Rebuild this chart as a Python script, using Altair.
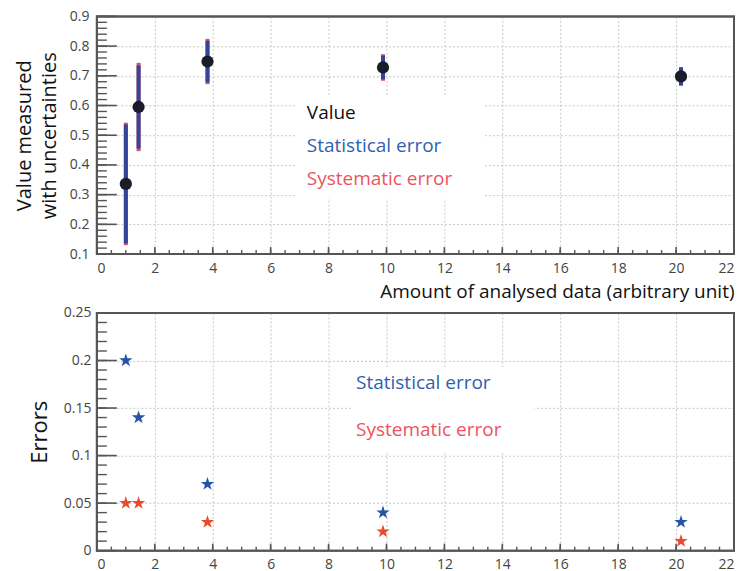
import altair as alt
import pandas as pd
import math

# ---- data ----
x_vals = [1.0, 1.44, 3.82, 9.88, 20.17]
values = [0.336, 0.595, 0.748, 0.728, 0.698]
stat_err = [0.20, 0.14, 0.07, 0.04, 0.03]
syst_err = [0.05, 0.05, 0.03, 0.02, 0.01]

x_major = list(range(0, 23, 2))
x_minor = [i * 0.5 for i in range(0, 45)]
y_top_major = [round(0.1 + 0.1 * i, 2) for i in range(9)]
y_top_minor = [round(0.1 + 0.02 * i, 2) for i in range(41)]
y_bot_major = [0, 0.05, 0.1, 0.15, 0.2, 0.25]
y_bot_minor = [round(0.01 * i, 2) for i in range(26)]

top_labels = ["Value", "Statistical error", "Systematic error"]
top_label_x = [7.25, 7.25, 7.25]
top_label_y = [0.575, 0.465, 0.352]
bot_labels = ["Statistical error", "Systematic error"]
bot_label_x = [8.95, 8.95]
bot_label_y = [0.176, 0.127]

BLUE_TXT = "#2f5fae"
RED_TXT = "#ea5460"
BLUE_STAR = "#2454a6"
RED_STAR = "#ea4a2c"
BAR_BLUE = "#34449a"
BAR_RED = "#e0505a"
PT = "#1c1c28"
FONT = "Open Sans"
TICKC = "#444444"
FRAME = "#555555"
STAR = ("M0,-1L0.2245,-0.309L0.9511,-0.309L0.3633,0.118L0.5878,0.809L0,0.382"
        "L-0.5878,0.809L-0.3633,0.118L-0.9511,-0.309L-0.2245,-0.309Z")

df = pd.DataFrame({"xv": x_vals, "val": values})
tot = [math.sqrt(a * a + b * b) for a, b in zip(stat_err, syst_err)]
df["lo_t"] = [v - t for v, t in zip(values, tot)]
df["hi_t"] = [v + t for v, t in zip(values, tot)]
df["lo_s"] = [v - s for v, s in zip(values, stat_err)]
df["hi_s"] = [v + s for v, s in zip(values, stat_err)]

W, H1, H2 = 638, 238, 238
XS = alt.Scale(domain=[0, 22], nice=False)
YS1 = alt.Scale(domain=[0.1, 0.9], nice=False, zero=False)
YS2 = alt.Scale(domain=[0, 0.25], nice=False, zero=False)

AX_X_TOP = alt.Axis(title="Amount of analysed data (arbitrary unit)", titleAnchor="end",
                    values=x_major, grid=True, ticks=False, domain=False, labelPadding=7,
                    titlePadding=8, titleFontSize=19)
AX_Y_TOP = alt.Axis(title=["Value measured", "with uncertainties"], values=y_top_major,
                    grid=True, ticks=False, domain=False, labelPadding=8,
                    titlePadding=10, titleFontSize=20, titleLineHeight=25)
AX_X_BOT = alt.Axis(title="", values=x_major, grid=True, ticks=False, domain=False,
                    labelPadding=7)
AX_Y_BOT = alt.Axis(title="Errors", values=y_bot_major, grid=True, ticks=False, domain=False,
                    labelPadding=6, titlePadding=12, titleFontSize=22,
                    labelExpr="toString(datum.value)")


def inner_ticks(H, ys, ax_x, ax_y, ymaj, ymin):
    out = []
    xmj = pd.DataFrame({"tx": x_major})
    xmn = pd.DataFrame({"tx": x_minor})
    ymj = pd.DataFrame({"ty": ymaj})
    ymn = pd.DataFrame({"ty": ymin})
    out.append(alt.Chart(xmj).mark_rule(color=FRAME, strokeWidth=1.6).encode(
        x=alt.X("tx:Q", scale=XS, axis=ax_x), y=alt.value(H), y2=alt.value(H - 7)))
    out.append(alt.Chart(xmn).mark_rule(color=FRAME, strokeWidth=1.4).encode(
        x=alt.X("tx:Q", scale=XS, axis=ax_x), y=alt.value(H), y2=alt.value(H - 4)))
    out.append(alt.Chart(ymj).mark_rule(color=FRAME, strokeWidth=1.6).encode(
        y=alt.Y("ty:Q", scale=ys, axis=ax_y), x=alt.value(0), x2=alt.value(20)))
    out.append(alt.Chart(ymn).mark_rule(color=FRAME, strokeWidth=1.4).encode(
        y=alt.Y("ty:Q", scale=ys, axis=ax_y), x=alt.value(0), x2=alt.value(10)))
    frame = alt.Chart(pd.DataFrame({"f": [0]})).mark_rect(
        filled=False, stroke=FRAME, strokeWidth=2).encode(
        x=alt.value(0), x2=alt.value(W), y=alt.value(0), y2=alt.value(H))
    out.append(frame)
    return out


# ---------- top panel ----------
top_box = alt.Chart(pd.DataFrame({"bx": [6.9], "bx2": [13.4], "by": [0.63], "by2": [0.288]})).mark_rect(
    color="white").encode(
    x=alt.X("bx:Q", scale=XS, axis=AX_X_TOP), x2="bx2",
    y=alt.Y("by:Q", scale=YS1, axis=AX_Y_TOP), y2="by2")
red_bar = alt.Chart(df).mark_rule(color=BAR_RED, strokeWidth=4).encode(
    x=alt.X("xv:Q", scale=XS, axis=AX_X_TOP),
    y=alt.Y("lo_t:Q", scale=YS1, axis=AX_Y_TOP), y2="hi_t")
blue_bar = alt.Chart(df).mark_rule(color=BAR_BLUE, strokeWidth=4).encode(
    x=alt.X("xv:Q", scale=XS, axis=AX_X_TOP),
    y=alt.Y("lo_s:Q", scale=YS1, axis=AX_Y_TOP), y2="hi_s")
pts = alt.Chart(df).mark_circle(color=PT, size=150, opacity=1).encode(
    x=alt.X("xv:Q", scale=XS, axis=AX_X_TOP),
    y=alt.Y("val:Q", scale=YS1, axis=AX_Y_TOP))
tl = pd.DataFrame({"lx": top_label_x, "ly": top_label_y, "lt": top_labels,
                   "lc": ["#111111", BLUE_TXT, RED_TXT]})
top_text = alt.Chart(tl).mark_text(align="left", baseline="middle", font=FONT, fontSize=19).encode(
    x=alt.X("lx:Q", scale=XS, axis=AX_X_TOP),
    y=alt.Y("ly:Q", scale=YS1, axis=AX_Y_TOP),
    text="lt:N", color=alt.Color("lc:N", scale=None))

top = alt.layer(top_box, red_bar, blue_bar, pts, top_text,
                *inner_ticks(H1, YS1, AX_X_TOP, AX_Y_TOP, y_top_major, y_top_minor)
                ).properties(width=W, height=H1)

# ---------- bottom panel ----------
ld = pd.DataFrame({
    "xv": x_vals + x_vals,
    "err": stat_err + syst_err,
    "sc": [BLUE_STAR] * len(x_vals) + [RED_STAR] * len(x_vals),
})
bot_box = alt.Chart(pd.DataFrame({"bx": [8.85], "bx2": [15.1], "by": [0.193], "by2": [0.103]})).mark_rect(
    color="white").encode(
    x=alt.X("bx:Q", scale=XS, axis=AX_X_BOT), x2="bx2",
    y=alt.Y("by:Q", scale=YS2, axis=AX_Y_BOT), y2="by2")
stars = alt.Chart(ld).mark_point(shape=STAR, filled=True, size=200, opacity=1, strokeWidth=0).encode(
    x=alt.X("xv:Q", scale=XS, axis=AX_X_BOT),
    y=alt.Y("err:Q", scale=YS2, axis=AX_Y_BOT),
    color=alt.Color("sc:N", scale=None))
bl = pd.DataFrame({"lx": bot_label_x, "ly": bot_label_y, "lt": bot_labels, "lc": [BLUE_TXT, RED_TXT]})
bot_text = alt.Chart(bl).mark_text(align="left", baseline="middle", font=FONT, fontSize=19).encode(
    x=alt.X("lx:Q", scale=XS, axis=AX_X_BOT),
    y=alt.Y("ly:Q", scale=YS2, axis=AX_Y_BOT),
    text="lt:N", color=alt.Color("lc:N", scale=None))

bot = alt.layer(bot_box, stars, bot_text,
                *inner_ticks(H2, YS2, AX_X_BOT, AX_Y_BOT, y_bot_major, y_bot_minor)
                ).properties(width=W, height=H2)

chart = alt.vconcat(top, bot, spacing=2).properties(
    padding={"left": 5, "top": 0, "right": 0, "bottom": 0}
).configure_view(
    stroke=FRAME, strokeWidth=2
).configure_axis(
    labelFont=FONT, labelFontSize=14, labelColor=TICKC,
    titleFont=FONT, titleColor="#111111", titleFontWeight="normal",
    gridColor="#c8c8c8", gridDash=[2, 2], gridWidth=1,
)

chart.save("out.html", embed_options={"renderer": "svg", "actions": False})
